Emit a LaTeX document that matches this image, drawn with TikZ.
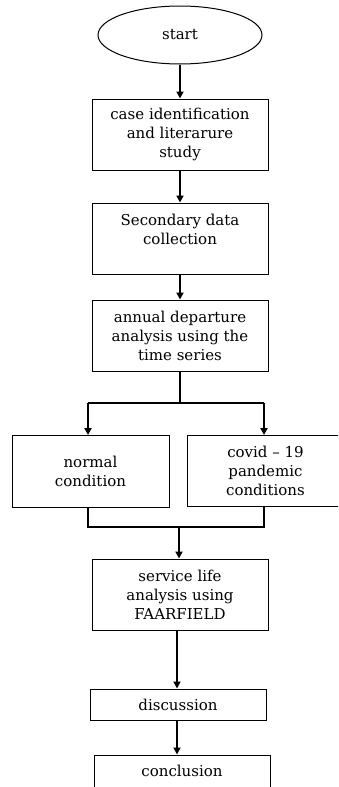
\documentclass[tikz,border=0pt]{standalone}
\usepackage{fontspec}
\setmainfont{DejaVu Serif}
\usetikzlibrary{shapes.geometric, positioning, arrows.meta}

\begin{document}
\begin{tikzpicture}[x=1pt, y=1pt,
  box/.style={draw, line width=1pt, minimum width=176pt, minimum height=71pt,
    inner sep=1pt, align=center, font=\fontsize{15}{19}\selectfont},
  term/.style={draw, ellipse, line width=1pt, minimum width=164pt, minimum height=58pt,
    inner sep=0pt, font=\fontsize{15}{19}\selectfont},
  flow/.style={-{Triangle[length=7pt, width=7pt]}, line width=1.8pt},
  bar/.style={line width=2.6pt}]
  \useasboundingbox (0,0) rectangle (338,-787);
  \clip (0,0) rectangle (338,-787);

  % langkah
  \node [term] (start) at (180,-35) {start\\[6pt]};
  \node [box] (case) [below=34pt of start] {case identification\\and literarure\\study};
  \node [box] (data) [below=32pt of case] {Secondary data\\collection\\\mbox{}};
  \node [box] (annual) [below=25pt of data] {annual departure\\analysis using the\\time series};
  \node [box, minimum width=157pt, minimum height=72pt] (normal) at (90.5,-471.5) {normal\\condition};
  \node [box, minimum width=157pt] (covid) at (265.5,-471) {covid -- 19\\pandemic\\conditions};
  \node [box] (service) [below=187pt of annual] {service life\\analysis using\\FAARFIELD};
  \node [box, minimum height=31pt] (disc) [below=58pt of service, xshift=-2pt] {discussion};
  \node [box, minimum height=32pt] (concl) [below=34pt of disc, xshift=4pt] {conclusion};

  % percabangan
  \coordinate (split) at (180,-403);
  \coordinate (splitL) at (88,-403);
  \coordinate (splitR) at (264,-403);
  \coordinate (mergeL) at (88,-527);
  \coordinate (mergeR) at (264,-527);
  \coordinate (merge) at (179,-527);
  \coordinate (discL) at (177,-707);

  % panah
  \draw [flow] (start) -- (case);
  \draw [flow] (case) -- (data);
  \draw [flow] (data) -- (annual);
  \draw [bar] (annual.south) -- (split);
  \draw [bar] (splitL) -- (splitR);
  \draw [flow] (splitL) -- (splitL |- normal.north);
  \draw [flow] (splitR) -- (splitR |- covid.north);
  \draw [bar] (mergeL |- normal.south) -- (mergeL) -- (mergeR) -- (mergeR |- covid.south);
  \draw [flow] (merge) -- (merge |- service.north);
  \draw [flow] (discL |- service.south) -- (discL |- disc.north);
  \draw [flow] (discL |- disc.south) -- (discL |- concl.north);
\end{tikzpicture}
\end{document}
